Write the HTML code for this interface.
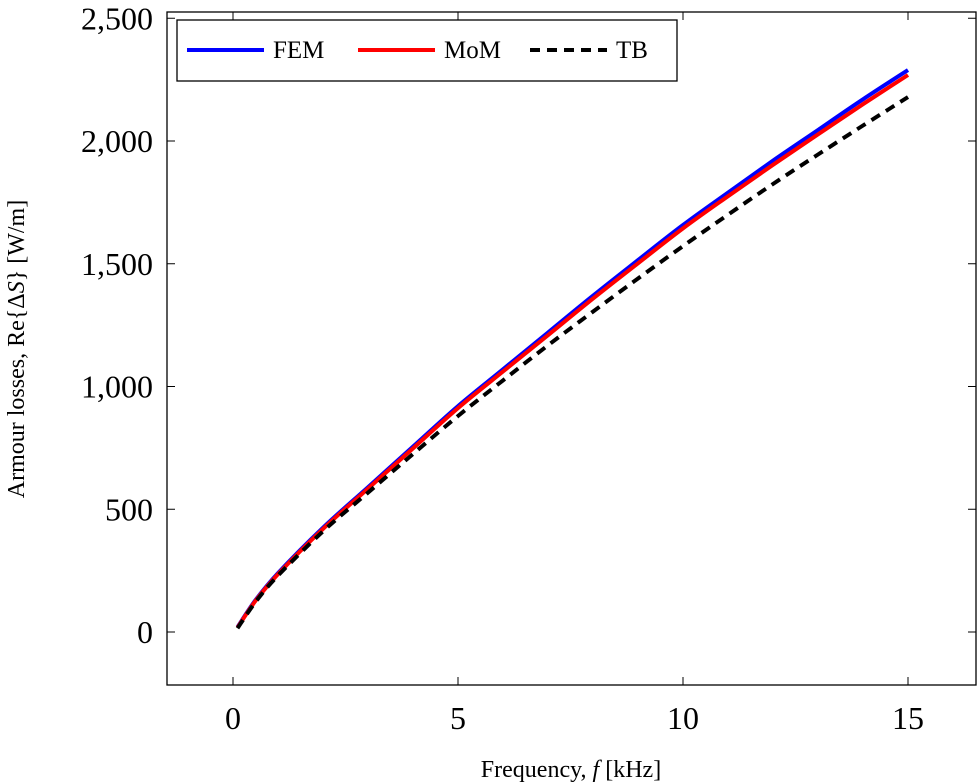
<!DOCTYPE html>
<html><head><meta charset="utf-8"><style>
html,body{margin:0;padding:0;background:#fff;}
svg{display:block;font-family:"Liberation Serif",serif;}
</style></head><body>
<svg id="chart" width="978" height="784"></svg>
<script>
const freq=[0.1,0.5,1,2,3,4,5,6,7,8,9,10,11,12,13,14,15];
const femVals=[20,130,240,425,590,755,920,1070,1220,1370,1515,1658,1790,1920,2045,2170,2289];
const momVals=[18,127,236,420,584,748,912,1061,1209,1358,1502,1644,1775,1903,2027,2150,2269];
const tbVals=[15,122,230,410,568,725,880,1025,1168,1305,1440,1572,1700,1825,1945,2063,2179];
const xTicks=[0,5,10,15];
const yTicks=[0,500,1000,1500,2000,2500];
const yTickLabels=["0","500","1,000","1,500","2,000","2,500"];
const NS="http://www.w3.org/2000/svg";
const svg=document.getElementById('chart');
const X=v=>233+v*45;
const Y=v=>632-v*0.2455;
function mk(t,a,p){const e=document.createElementNS(NS,t);for(const k in a)e.setAttribute(k,a[k]);(p||svg).appendChild(e);return e;}
const frame=mk('rect',{x:167,y:12,width:809,height:673,fill:'none',stroke:'#000','stroke-width':1.3});


xTicks.forEach(v=>{
  const g=mk('g',{});
  
  
  mk('line',{x1:X(v),x2:X(v),y1:685,y2:677,stroke:'#000','stroke-width':1},g);
  mk('line',{x1:X(v),x2:X(v),y1:12,y2:20,stroke:'#000','stroke-width':1},g);
  const t=mk('text',{x:X(v),y:729,'text-anchor':'middle','font-size':32},g);t.textContent=v;
});
yTicks.forEach((v,i)=>{
  const g=mk('g',{});
  
  
  mk('line',{x1:167,x2:175,y1:Y(v),y2:Y(v),stroke:'#000','stroke-width':1},g);
  mk('line',{x1:976,x2:968,y1:Y(v),y2:Y(v),stroke:'#000','stroke-width':1},g);
  const t=mk('text',{x:153,y:Y(v)+11,'text-anchor':'end','font-size':32},g);t.textContent=yTickLabels[i];
});
function line(vals,color,name,dash){
  const pts=freq.map((f,i)=>[X(f),Y(vals[i])]);
  let d='M'+pts[0][0].toFixed(1)+','+pts[0][1].toFixed(1);
  for(let i=0;i<pts.length-1;i++){
    const p0=pts[Math.max(0,i-1)],p1=pts[i],p2=pts[i+1],p3=pts[Math.min(pts.length-1,i+2)];
    const c1=[p1[0]+(p2[0]-p0[0])/6,p1[1]+(p2[1]-p0[1])/6];
    const c2=[p2[0]-(p3[0]-p1[0])/6,p2[1]-(p3[1]-p1[1])/6];
    d+=' C'+c1.map(n=>n.toFixed(1)).join(',')+' '+c2.map(n=>n.toFixed(1)).join(',')+' '+p2.map(n=>n.toFixed(1)).join(',');
  }
  const p=mk('path',{d:d,fill:'none',stroke:color,'stroke-width':4,'stroke-linejoin':'round'});
  if(dash)p.setAttribute('stroke-dasharray',dash);
  
  
}
line(femVals,'#0000ff','fem-line');
line(momVals,'#ff0000','mom-line');
line(tbVals,'#000','tb-line','10,7');
const xl=mk('text',{x:571,y:777,'text-anchor':'middle','font-size':24});
xl.innerHTML='Frequency, <tspan font-style="italic">f</tspan>  [kHz]';


const yl=mk('text',{x:0,y:0,'text-anchor':'middle','font-size':24,transform:'translate(24,349) rotate(-90)'});
yl.innerHTML='Armour losses, Re{Δ<tspan font-style="italic">S</tspan>} [W/m]';


const lg=mk('g',{});


mk('rect',{x:177,y:20,width:500,height:61,fill:'#fff',stroke:'#000','stroke-width':1.3},lg);
[['FEM','#0000ff',null,187],['MoM','#ff0000',null,358],['TB','#000','10,7',530]].forEach(([n,c,d,x])=>{
  const g=mk('g',{},lg);
  
  
  const l=mk('line',{x1:x,x2:x+77,y1:50,y2:50,stroke:c,'stroke-width':4},g);
  if(d)l.setAttribute('stroke-dasharray',d);
  const t=mk('text',{x:x+86,y:58,'font-size':25},g);t.textContent=n;
});
</script>
</body></html>
